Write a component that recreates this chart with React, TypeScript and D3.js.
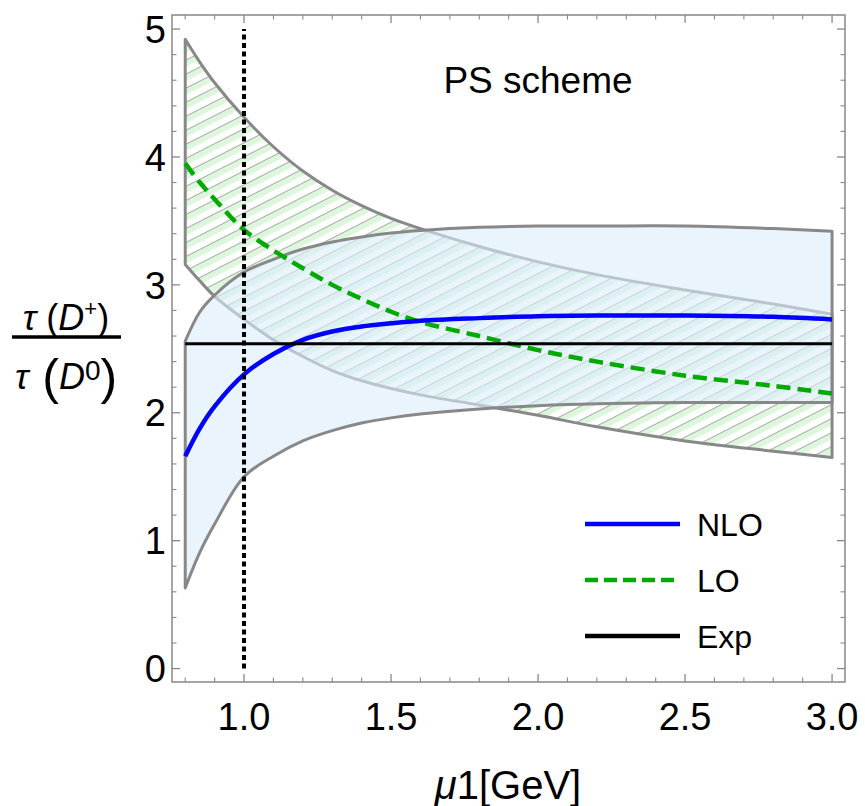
import * as d3 from "d3"

// scale mu1 in GeV
const mu = [0.8, 0.85, 0.9, 1.0, 1.1, 1.2, 1.3, 1.4, 1.5, 1.6, 1.8, 2.0, 2.2, 2.5, 2.8, 3.0]
const nlo = [1.66, 1.88, 2.05, 2.3, 2.46, 2.57, 2.635, 2.675, 2.70, 2.72, 2.74, 2.755, 2.76, 2.76, 2.75, 2.73]
const nloHigh = [2.56, 2.79, 2.92, 3.1, 3.2, 3.28, 3.335, 3.375, 3.405, 3.425, 3.45, 3.46, 3.46, 3.46, 3.44, 3.42]
const nloLow = [0.63, 0.91, 1.13, 1.5, 1.66, 1.78, 1.86, 1.92, 1.96, 1.99, 2.03, 2.055, 2.07, 2.08, 2.08, 2.08]
const lo = [3.95, 3.8, 3.67, 3.43, 3.27, 3.13, 3.0, 2.89, 2.79, 2.71, 2.6, 2.49, 2.4, 2.29, 2.21, 2.15]
const loHigh = [4.92, 4.74, 4.58, 4.31, 4.08, 3.89, 3.74, 3.62, 3.52, 3.44, 3.3, 3.18, 3.08, 2.96, 2.85, 2.77]
const loLow = [3.16, 3.03, 2.91, 2.73, 2.57, 2.44, 2.33, 2.25, 2.19, 2.14, 2.06, 1.98, 1.89, 1.78, 1.7, 1.65]
const expValue = 2.54
const refScale = 1.0

const xTicks = [1.0, 1.5, 2.0, 2.5, 3.0]
const yTicks = [0, 1, 2, 3, 4, 5]
const legend = [
  { label: "NLO", color: "#0000ff", dash: null },
  { label: "LO", color: "#00aa00", dash: "13,6" },
  { label: "Exp", color: "#000000", dash: null },
]

const W = 865
const H = 806
const left = 172
const right = 845
const top = 15
const bottom = 682
const font = "'Liberation Sans', Arial, Helvetica, sans-serif"

const App = () => {
  const x = d3.scaleLinear().domain([0.755, 3.044]).range([left, right])
  const y = d3.scaleLinear().domain([-0.105, 5.11]).range([bottom, top])

  const idx = mu.map((_, i) => i)
  const curve = d3.curveCatmullRom.alpha(0.5)
  const band = (hi, lw) =>
    d3
      .area<number>()
      .x((i) => x(mu[i]))
      .y0((i) => y(lw[i]))
      .y1((i) => y(hi[i]))
      .curve(curve)(idx)
  const line = (vals) =>
    d3
      .line<number>()
      .x((i) => x(mu[i]))
      .y((i) => y(vals[i]))
      .curve(curve)(idx)

  const xMinor = d3.range(8, 31).map((v) => v / 10).filter((v) => !xTicks.some((t) => Math.abs(t - v) < 1e-6))
  const yMinor = d3.range(0, 26).map((v) => v / 5).filter((v) => !yTicks.some((t) => Math.abs(t - v) < 1e-6))

  const frame = "#888888"
  const tickEls = []
  xTicks.forEach((t) => {
    tickEls.push(<line key={"xb" + t} x1={x(t)} x2={x(t)} y1={bottom} y2={bottom - 8} stroke={frame} strokeWidth={1.3} />)
    tickEls.push(<line key={"xt" + t} x1={x(t)} x2={x(t)} y1={top} y2={top + 8} stroke={frame} strokeWidth={1.3} />)
  })
  xMinor.forEach((t) => {
    tickEls.push(<line key={"xmb" + t} x1={x(t)} x2={x(t)} y1={bottom} y2={bottom - 4.5} stroke={frame} strokeWidth={1.1} />)
    tickEls.push(<line key={"xmt" + t} x1={x(t)} x2={x(t)} y1={top} y2={top + 4.5} stroke={frame} strokeWidth={1.1} />)
  })
  yTicks.forEach((t) => {
    tickEls.push(<line key={"yl" + t} x1={left} x2={left + 8} y1={y(t)} y2={y(t)} stroke={frame} strokeWidth={1.3} />)
    tickEls.push(<line key={"yr" + t} x1={right} x2={right - 8} y1={y(t)} y2={y(t)} stroke={frame} strokeWidth={1.3} />)
  })
  yMinor.forEach((t) => {
    tickEls.push(<line key={"yml" + t} x1={left} x2={left + 4.5} y1={y(t)} y2={y(t)} stroke={frame} strokeWidth={1.1} />)
    tickEls.push(<line key={"ymr" + t} x1={right} x2={right - 4.5} y1={y(t)} y2={y(t)} stroke={frame} strokeWidth={1.1} />)
  })

  return (
    <div style={{ position: "absolute", left: 0, top: 0 }}>
      <svg width={W} height={H} style={{ display: "block", background: "#fff" }} fontFamily={font}>
        <defs>
          <pattern id="hatch" patternUnits="userSpaceOnUse" width={40} height={12.5} patternTransform="rotate(-27)">
            <rect x={0} y={0} width={40} height={12.5} fill="#ffffff" />
            <rect x={0} y={0} width={40} height={6.5} fill="#dcf7dc" />
            <line x1={0} x2={40} y1={0.5} y2={0.5} stroke="#a8a8a8" strokeWidth={1} />
          </pattern>
          <clipPath id="plot">
            <rect x={left} y={top} width={right - left} height={bottom - top} />
          </clipPath>
        </defs>

        <g clipPath="url(#plot)">
          <path d={band(loHigh, loLow)} fill="url(#hatch)" stroke="#888" strokeWidth={3} strokeLinejoin="round" />
          <path d={band(nloHigh, nloLow)} fill="rgb(220,236,252)" fillOpacity={0.6} stroke="none" />
          <path d={band(nloHigh, nloLow)} fill="none" stroke="#888" strokeWidth={3} strokeLinejoin="round" />
          <path d={line(lo)} fill="none" stroke="#00aa00" strokeWidth={4.5} strokeDasharray="14,7" />
          <path d={line(nlo)} fill="none" stroke="#0000ff" strokeWidth={4.5} />
          <line x1={x(mu[0])} x2={x(mu[mu.length - 1])} y1={y(expValue)} y2={y(expValue)} stroke="#000" strokeWidth={3} />
          <line x1={x(refScale)} x2={x(refScale)} y1={y(0)} y2={y(5)} stroke="#000" strokeWidth={4} strokeDasharray="5,3.5" />
        </g>

        <rect x={left} y={top} width={right - left} height={bottom - top} fill="none" stroke={frame} strokeWidth={1.5} />
        {tickEls}

        {xTicks.map((t) => (
          <text key={"xl" + t} x={x(t)} y={730} fontSize={38} textAnchor="middle" fill="#000">
            {t.toFixed(1)}
          </text>
        ))}
        {yTicks.map((t) => (
          <text key={"yl" + t} x={166} y={y(t)} dy="0.36em" fontSize={38} textAnchor="end" fill="#000">
            {t}
          </text>
        ))}

        <text x={508} y={799} fontSize={40} textAnchor="middle" fill="#000">
          <tspan fontStyle="italic">μ</tspan>1[GeV]
        </text>

        <text x={538} y={93} fontSize={37} textAnchor="middle" fill="#000">
          PS scheme
        </text>

        {/* y label as a fraction */}
        <g fill="#000">
          <text x={66} y={330} fontSize={36} textAnchor="middle">
            <tspan fontStyle="italic">τ</tspan>
            <tspan> (</tspan>
            <tspan fontStyle="italic">D</tspan>
            <tspan fontSize={22} dy={-14}>+</tspan>
            <tspan dy={14}>)</tspan>
          </text>
          <line x1={12} x2={121} y1={337} y2={337} stroke="#000" strokeWidth={3.5} />
          <text x={66} y={389} fontSize={36} textAnchor="middle">
            <tspan fontStyle="italic">τ</tspan>
            <tspan fontSize={50} dy={5}> (</tspan>
            <tspan fontStyle="italic" dy={-5}>D</tspan>
            <tspan fontSize={28} dy={-9}>0</tspan>
            <tspan fontSize={50} dy={14}>)</tspan>
          </text>
        </g>

        {legend.map((d, i) => (
          <g key={d.label}>
            <line
              x1={585}
              x2={680}
              y1={524 + i * 56}
              y2={524 + i * 56}
              stroke={d.color}
              strokeWidth={4.5}
              strokeDasharray={d.dash ?? undefined}
            />
            <text x={697} y={524 + i * 56} dy="0.36em" fontSize={32} fill="#000">
              {d.label}
            </text>
          </g>
        ))}
      </svg>
    </div>
  )
}

export default App
